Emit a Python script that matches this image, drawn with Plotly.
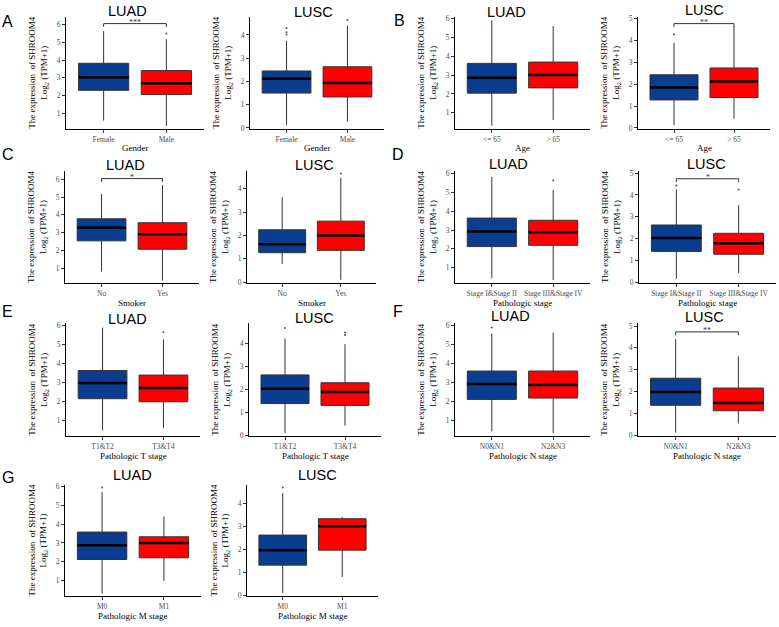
import plotly.graph_objects as go

W, H = 779, 627

# ---------------- data ----------------
cohorts = ["LUAD", "LUSC"] * 7
x_titles = ["Gender", "Gender", "Age", "Age", "Smoker", "Smoker",
            "Pathologic stage", "Pathologic stage",
            "Pathologic T stage", "Pathologic T stage",
            "Pathologic N stage", "Pathologic N stage",
            "Pathologic M stage", "Pathologic M stage"]
categories = ([["Female", "Male"]] * 2 + [["<= 65", "> 65"]] * 2 + [["No", "Yes"]] * 2 +
              [["Stage I&Stage II", "Stage III&Stage IV"]] * 2 + [["T1&T2", "T3&T4"]] * 2 +
              [["N0&N1", "N2&N3"]] * 2 + [["M0", "M1"]] * 2)

q1 = [[2.30, 2.06], [1.50, 1.33], [2.04, 2.32], [1.28, 1.39],
      [2.54, 2.07], [1.26, 1.36], [2.12, 2.19], [1.41, 1.28],
      [2.14, 1.98], [1.38, 1.30], [2.11, 2.18], [1.37, 1.12],
      [2.12, 2.21], [1.32, 1.97]]
median = [[3.04, 2.70], [2.11, 1.93], [2.86, 3.01], [1.85, 2.12],
          [3.28, 2.91], [1.62, 1.99], [2.93, 2.88], [2.02, 1.78],
          [2.96, 2.70], [2.02, 1.88], [2.92, 2.87], [1.98, 1.48],
          [2.88, 3.00], [1.97, 3.00]]
q3 = [[3.82, 3.41], [2.45, 2.63], [3.62, 3.69], [2.43, 2.74],
      [3.78, 3.56], [2.24, 2.61], [3.64, 3.52], [2.62, 2.24],
      [3.62, 3.38], [2.62, 2.28], [3.61, 3.61], [2.61, 2.16],
      [3.58, 3.33], [2.62, 3.33]]
whisker_low = [[0.60, 0.30], [0.13, 0.27], [0.32, 0.62], [0.12, 0.42],
               [0.81, 0.30], [0.78, 0.10], [0.43, 0.34], [0.15, 0.42],
               [0.48, 0.59], [0.10, 0.42], [0.42, 0.33], [0.12, 0.54],
               [0.30, 0.98], [0.11, 0.81]]
whisker_high = [[5.63, 5.17], [3.75, 4.41], [5.91, 5.60], [3.90, 4.65],
                [5.17, 5.67], [3.63, 4.46], [5.83, 5.14], [4.25, 3.53],
                [5.87, 5.25], [4.20, 3.95], [5.60, 5.64], [4.40, 3.61],
                [5.72, 4.42], [4.44, 3.40]]
outliers = [[[], [5.50]], [[4.02, 4.12, 4.30], [4.64]], [[], []], [[4.27], []],
            [[], []], [[], [4.65]], [[], [5.64]], [[4.43], [4.25]],
            [[], [5.62]], [[4.65], [4.35, 4.45]], [[5.91], []], [[], []],
            [[5.95], []], [[4.68], []]]
sig_labels = ["***", "", "", "**", "*", "", "", "*", "", "", "", "**", "", ""]
sig_heights = [6.05, None, None, 4.77, 6.04, None, None, 4.74, None, None, None, 4.73, None, None]

# ---------------- layout (pixels) ----------------
panel_x = [(66, 204), (250, 384), (455, 590), (638, 770),
           (65, 199), (247, 376), (455, 590), (639, 776),
           (66, 200), (249, 381), (455, 590), (638, 776),
           (65, 201), (247, 378)]
panel_row = [0, 0, 0, 0, 1, 1, 1, 1, 2, 2, 2, 2, 3, 3]
row_px = [(127, 14), (283, 170), (438, 324), (600, 487)]
y_ranges = [(0.15, 6.43), (-0.03, 4.78), (0.16, 6.09), (-0.03, 5.08),
            (0.18, 6.46), (-0.03, 4.75), (0.19, 6.14), (-0.03, 5.09),
            (0.18, 6.09), (-0.03, 4.85), (0.17, 6.13), (-0.04, 5.12),
            (0.16, 6.11), (-0.03, 4.81)]
title_px = [(127.5, 8.5), (313.7, 8.7), (506.7, 9.5), (704, 7.5),
            (125, 164), (314, 163.7), (508, 163), (706.7, 163),
            (128, 320), (314, 319), (510, 316.7), (704, 317.5),
            (132.5, 477), (317.5, 477)]
letter_px = {"A": (7.5, 19), "B": (399, 17.5), "C": (8, 153), "D": (398, 153),
             "E": (8, 312), "F": (398, 312), "G": (8, 480)}

FILL = ["#0A3D8F", "#FF0000"]
SERIF = "Liberation Serif, Times New Roman, serif"
SANS = "Liberation Sans, Arial, sans-serif"


def px(x):
    return x / W


def py(y):
    return 1 - y / H


fig = go.Figure()
layout = dict(width=W, height=H, margin=dict(l=0, r=0, t=0, b=0),
              paper_bgcolor="white", plot_bgcolor="white", showlegend=False,
              boxmode="overlay")
annotations = []

for p in range(14):
    n = p + 1
    xa = "x" if n == 1 else f"x{n}"
    ya = "y" if n == 1 else f"y{n}"
    xkey = "xaxis" if n == 1 else f"xaxis{n}"
    ykey = "yaxis" if n == 1 else f"yaxis{n}"
    x0, x1 = panel_x[p]
    yb, yt = row_px[panel_row[p]]
    lo, hi = y_ranges[p]

    for i in range(2):
        fig.add_trace(go.Box(
            x=[i], q1=[q1[p][i]], median=[median[p][i]], q3=[q3[p][i]],
            lowerfence=[whisker_low[p][i]], upperfence=[whisker_high[p][i]],
            width=0.8, fillcolor=FILL[i], line=dict(color="#333333", width=1),
            whiskerwidth=0, boxpoints=False, xaxis=xa, yaxis=ya,
            hoverinfo="skip", showlegend=False))
        fig.add_trace(go.Scatter(
            x=[i - 0.4, i + 0.4], y=[median[p][i], median[p][i]], mode="lines",
            line=dict(color="black", width=2.5), xaxis=xa, yaxis=ya,
            hoverinfo="skip", showlegend=False))
        if outliers[p][i]:
            fig.add_trace(go.Scatter(
                x=[i] * len(outliers[p][i]), y=outliers[p][i], mode="markers",
                marker=dict(color="#555555", size=2), xaxis=xa, yaxis=ya,
                hoverinfo="skip", showlegend=False))

    if sig_heights[p] is not None:
        h = sig_heights[p]
        tip = 0.03 * (hi - lo)
        fig.add_trace(go.Scatter(
            x=[0, 0, 1, 1], y=[h - tip, h, h, h - tip], mode="lines",
            line=dict(color="#333333", width=1), xaxis=xa, yaxis=ya,
            hoverinfo="skip", showlegend=False))
        annotations.append(dict(x=0.5, y=h, xref=xa, yref=ya, text=sig_labels[p],
                                showarrow=False, yanchor="middle", yshift=1,
                                font=dict(family=SERIF, size=8, color="#333333")))

    tick_text = [c.replace("<", "&lt;") for c in categories[p]]
    layout[xkey] = dict(domain=[px(x0), px(x1)], range=[-0.6, 1.6], anchor=ya,
                        tickvals=[0, 1], ticktext=tick_text,
                        showline=True, linecolor="black", linewidth=1,
                        ticks="outside", ticklen=3, tickcolor="#333333",
                        tickfont=dict(family=SERIF, size=7.5, color="#4d4d4d"),
                        showgrid=False, zeroline=False, fixedrange=True)
    layout[ykey] = dict(domain=[py(yb), py(yt)], range=[lo, hi], anchor=xa,
                        dtick=1, tick0=0,
                        showline=True, linecolor="black", linewidth=1,
                        ticks="outside", ticklen=3, tickcolor="#333333",
                        tickfont=dict(family=SERIF, size=7.5, color="#4d4d4d"),
                        showgrid=False, zeroline=False, fixedrange=True)

    # cohort title
    tx, ty = title_px[p]
    annotations.append(dict(x=px(tx), y=py(ty), xref="paper", yref="paper",
                            text=cohorts[p], showarrow=False,
                            xanchor="center", yanchor="middle",
                            font=dict(family=SANS, size=14.5, color="black")))
    # y title
    annotations.append(dict(x=px(x0 - 27), y=py((yb + yt) / 2), xref="paper", yref="paper",
                            text="The expression  of SHROOM4<br>Log<sub>2</sub> (TPM+1)",
                            showarrow=False, textangle=-90,
                            xanchor="center", yanchor="middle",
                            font=dict(family=SERIF, size=9, color="black")))
    # x title
    annotations.append(dict(x=px((x0 + x1) / 2), y=py(yb + 20), xref="paper", yref="paper",
                            text=x_titles[p], showarrow=False,
                            xanchor="center", yanchor="middle",
                            font=dict(family=SERIF, size=9, color="black")))

for letter, (lx, ly) in letter_px.items():
    annotations.append(dict(x=px(lx), y=py(ly), xref="paper", yref="paper",
                            text=letter, showarrow=False,
                            xanchor="center", yanchor="middle",
                            font=dict(family=SANS, size=16, color="black")))

layout["annotations"] = annotations
fig.update_layout(**layout)
fig.write_html("out.html")
